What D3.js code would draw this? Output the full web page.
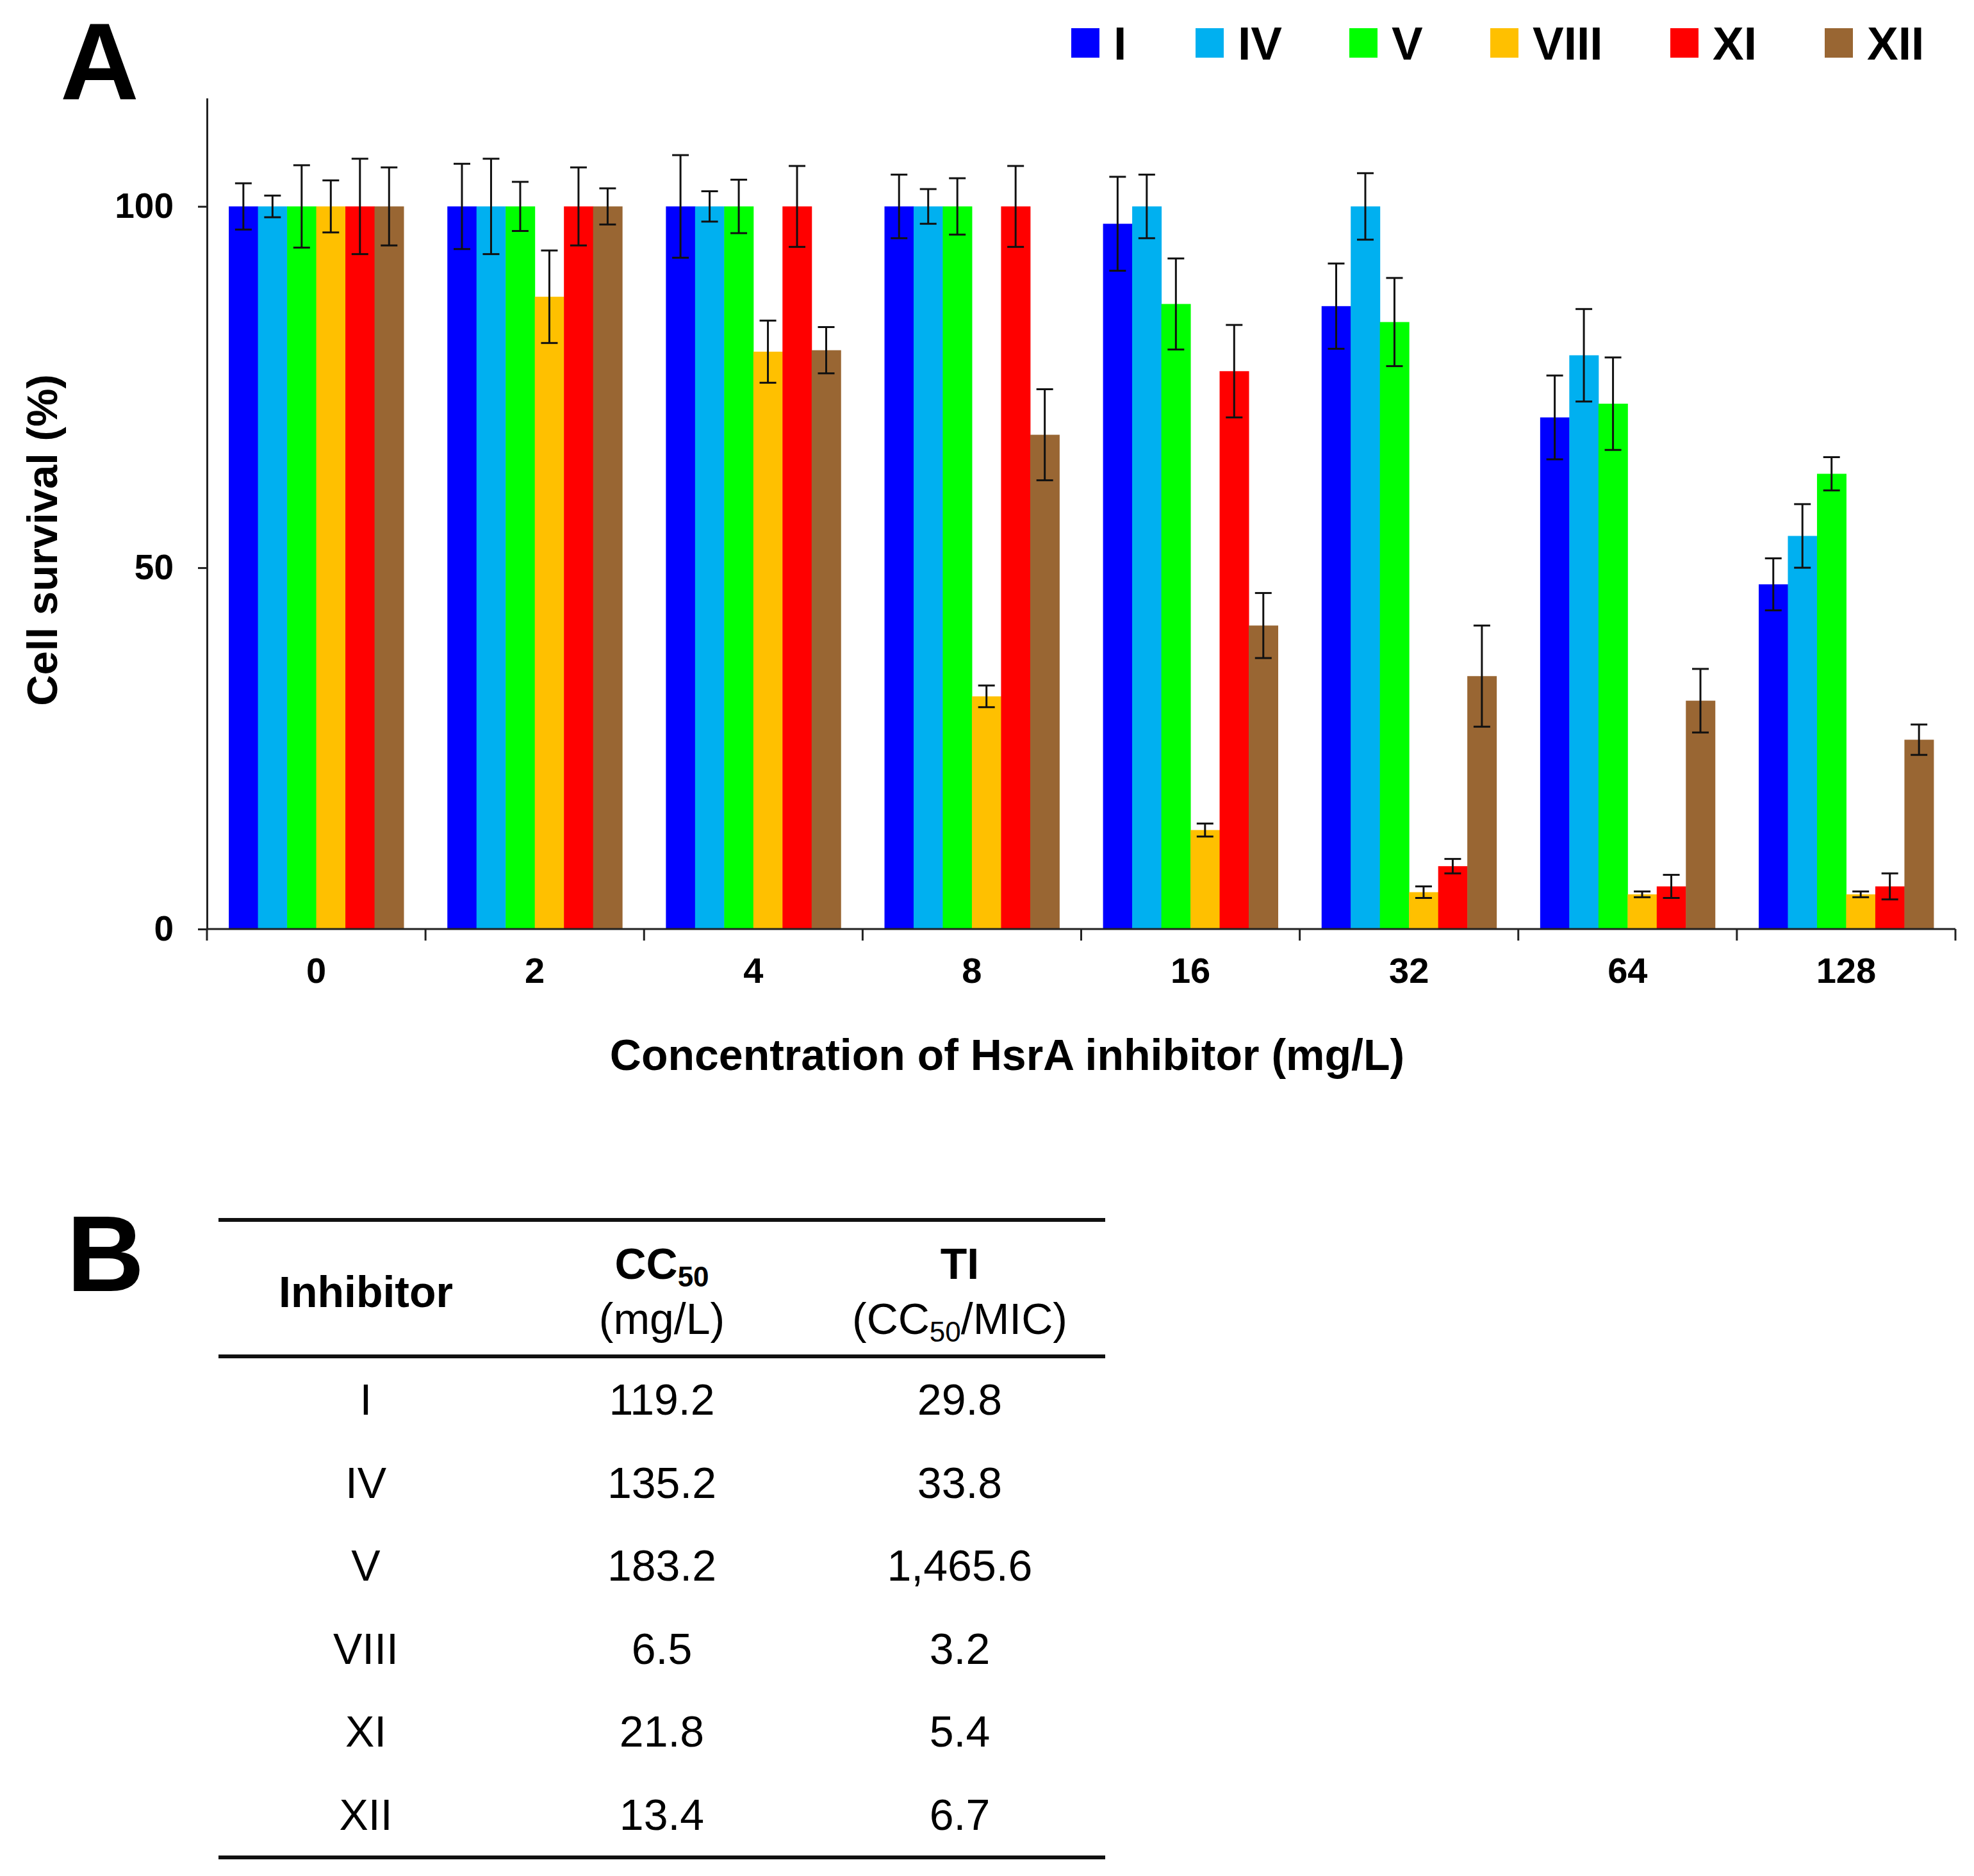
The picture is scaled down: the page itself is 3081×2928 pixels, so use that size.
<!DOCTYPE html>
<html lang="en">
  <head>
    <meta charset="UTF-8" />
    <title>Cell survival vs HsrA inhibitor concentration</title>
    <style>
      body {
        margin: 0;
        background: #fff;
      }
      svg {
        display: block;
        font-family: "Liberation Sans", Arial, sans-serif;
      }
      .bold {
        font-weight: bold;
      }
    </style>
  </head>
  <body>
    <svg id="chart"></svg>

    <script src="https://d3js.org/d3.v7.min.js"></script>
    <script>
      const width = 3081;
      const height = 2928;

      // data
      const concentrations = ["0", "2", "4", "8", "16", "32", "64", "128"];
      const inhibitors = ["I", "IV", "V", "VIII", "XI", "XII"];
      const colors = ["#0000ff", "#00b0f0", "#00ff00", "#ffc000", "#ff0000", "#996633"];

      // survival (%) per inhibitor, one value per concentration
      const survI = [100, 100, 100, 100, 97.6, 86.2, 70.8, 47.7];
      const survIV = [100, 100, 100, 100, 100, 100, 79.4, 54.4];
      const survV = [100, 100, 100, 100, 86.5, 84.0, 72.7, 63.0];
      const survVIII = [100, 87.5, 79.9, 32.2, 13.7, 5.1, 4.8, 4.8];
      const survXI = [100, 100, 100, 100, 77.2, 8.7, 5.9, 5.9];
      const survXII = [100, 100, 80.1, 68.4, 42.0, 35.0, 31.6, 26.2];

      // error bar half-lengths
      const errI = [3.2, 5.9, 7.1, 4.4, 6.5, 5.9, 5.8, 3.6];
      const errIV = [1.5, 6.6, 2.1, 2.4, 4.4, 4.6, 6.4, 4.4];
      const errV = [5.7, 3.4, 3.7, 3.9, 6.3, 6.1, 6.4, 2.3];
      const errVIII = [3.6, 6.4, 4.3, 1.5, 0.9, 0.8, 0.4, 0.4];
      const errXI = [6.6, 5.4, 5.6, 5.6, 6.4, 1.0, 1.6, 1.8];
      const errXII = [5.4, 2.5, 3.2, 6.3, 4.5, 7.0, 4.4, 2.1];

      const yTicks = [0, 50, 100];

      // table B
      const tableInhibitors = ["I", "IV", "V", "VIII", "XI", "XII"];
      const tableCC50 = ["119.2", "135.2", "183.2", "6.5", "21.8", "13.4"];
      const tableTI = ["29.8", "33.8", "1,465.6", "3.2", "5.4", "6.7"];

      const survival = [survI, survIV, survV, survVIII, survXI, survXII];
      const errors = [errI, errIV, errV, errVIII, errXI, errXII];

      const rows = [];
      concentrations.forEach((c, ci) => {
        inhibitors.forEach((inh, si) => {
          rows.push({
            conc: c,
            inhibitor: inh,
            value: survival[si][ci],
            err: errors[si][ci],
          });
        });
      });

      const svg = d3
        .select("#chart")
        .attr("width", width)
        .attr("height", height)
        .attr("viewBox", `0 0 ${width} ${height}`);

      const margin = { left: 323, right: 3052, top: 153, bottom: 1450 };

      const x0 = d3
        .scaleBand()
        .domain(concentrations)
        .range([margin.left, margin.right])
        .paddingInner(0.2)
        .paddingOuter(0.1);

      const x1 = d3
        .scaleBand()
        .domain(inhibitors)
        .range([0, x0.bandwidth()]);

      const y = d3
        .scaleLinear()
        .domain([0, 115])
        .range([margin.bottom, margin.top]);

      const color = d3.scaleOrdinal().domain(inhibitors).range(colors);

      // panel letters
      svg
        .append("text")
        .attr("class", "bold")
        .attr("x", 94)
        .attr("y", 155)
        .attr("font-size", 170)
        .text("A");

      // bars
      const plot = svg.append("g");

      plot
        .selectAll("rect")
        .data(rows)
        .join("rect")
        .attr("x", (d) => x0(d.conc) + x1(d.inhibitor))
        .attr("y", (d) => y(d.value))
        .attr("width", x1.bandwidth() + 0.5)
        .attr("height", (d) => y(0) - y(d.value))
        .attr("fill", (d) => color(d.inhibitor));

      // error bars
      const capW = 13;
      const cx = (d) => x0(d.conc) + x1(d.inhibitor) + x1.bandwidth() / 2;
      const eb = plot
        .selectAll("g.err")
        .data(rows)
        .join("g")
        .attr("class", "err")
        .attr("stroke", "#111")
        .attr("stroke-width", 3);

      eb.append("line")
        .attr("x1", cx)
        .attr("x2", cx)
        .attr("y1", (d) => y(d.value - d.err))
        .attr("y2", (d) => y(d.value + d.err));

      eb.append("line")
        .attr("x1", (d) => cx(d) - capW)
        .attr("x2", (d) => cx(d) + capW)
        .attr("y1", (d) => y(d.value + d.err))
        .attr("y2", (d) => y(d.value + d.err));

      eb.append("line")
        .attr("x1", (d) => cx(d) - capW)
        .attr("x2", (d) => cx(d) + capW)
        .attr("y1", (d) => y(d.value - d.err))
        .attr("y2", (d) => y(d.value - d.err));

      // y axis
      const yAxis = svg
        .append("g")
        .attr("transform", `translate(${margin.left},0)`)
        .call(d3.axisLeft(y).tickValues(yTicks).tickSize(14).tickSizeOuter(0).tickPadding(38));

      yAxis.selectAll("path, line").attr("stroke", "#222").attr("stroke-width", 3);
      yAxis
        .selectAll("text")
        .attr("class", "bold")
        .attr("font-size", 55)
        .attr("fill", "#000");

      // x axis: baseline, boundary ticks, centred labels
      const xAxis = svg
        .append("g")
        .attr("transform", `translate(0,${margin.bottom})`)
        .call(d3.axisBottom(x0).tickSize(0).tickPadding(84));

      xAxis.select("path").remove();
      xAxis
        .selectAll("text")
        .attr("class", "bold")
        .attr("font-size", 56)
        .attr("fill", "#000")
        .attr("dy", 0);

      xAxis
        .append("line")
        .attr("x1", margin.left)
        .attr("x2", margin.right)
        .attr("stroke", "#222")
        .attr("stroke-width", 3);

      const step = x0.step();
      const bounds = concentrations.map((c) => x0(c) - step * 0.1);
      bounds.push(margin.right);
      xAxis
        .selectAll("line.bound")
        .data(bounds)
        .join("line")
        .attr("class", "bound")
        .attr("x1", (d) => d)
        .attr("x2", (d) => d)
        .attr("y1", 0)
        .attr("y2", 18)
        .attr("stroke", "#222")
        .attr("stroke-width", 3);

      // axis titles
      svg
        .append("text")
        .attr("class", "bold")
        .attr("transform", `translate(89,843) rotate(-90)`)
        .attr("text-anchor", "middle")
        .attr("font-size", 67)
        .text("Cell survival (%)");

      svg
        .append("text")
        .attr("class", "bold")
        .attr("x", 1572)
        .attr("y", 1670)
        .attr("text-anchor", "middle")
        .attr("font-size", 68)
        .text("Concentration of HsrA inhibitor (mg/L)");

      // legend
      const legendX = [1672, 1866, 2106, 2326, 2607, 2848];
      const legend = svg
        .selectAll("g.legend")
        .data(inhibitors)
        .join("g")
        .attr("class", "legend")
        .attr("transform", (d, i) => `translate(${legendX[i]},44)`);

      legend
        .append("rect")
        .attr("width", 44)
        .attr("height", 46)
        .attr("fill", (d) => color(d));

      legend
        .append("text")
        .attr("class", "bold")
        .attr("x", 66)
        .attr("y", 49)
        .attr("font-size", 73)
        .text((d) => d);

      // ---- table B ----
      svg
        .append("text")
        .attr("class", "bold")
        .attr("x", 104)
        .attr("y", 2015)
        .attr("font-size", 168)
        .text("B");

      const tLeft = 341;
      const tRight = 1725;
      const colX = [571, 1033, 1498];
      const lineYs = [1904, 2117, 2899];

      svg
        .selectAll("line.rule")
        .data(lineYs)
        .join("line")
        .attr("class", "rule")
        .attr("x1", tLeft)
        .attr("x2", tRight)
        .attr("y1", (d) => d)
        .attr("y2", (d) => d)
        .attr("stroke", "#111")
        .attr("stroke-width", 6);

      const head = svg.append("g").attr("text-anchor", "middle").attr("fill", "#000");

      head
        .append("text")
        .attr("class", "bold")
        .attr("x", colX[0])
        .attr("y", 2040)
        .attr("font-size", 68)
        .text("Inhibitor");

      const cc = head
        .append("text")
        .attr("class", "bold")
        .attr("x", colX[1])
        .attr("y", 1996)
        .attr("font-size", 68);
      cc.append("tspan").text("CC");
      cc.append("tspan").attr("font-size", 44).attr("dy", 12).text("50");

      head
        .append("text")
        .attr("x", colX[1])
        .attr("y", 2082)
        .attr("font-size", 68)
        .text("(mg/L)");

      head
        .append("text")
        .attr("class", "bold")
        .attr("x", colX[2])
        .attr("y", 1996)
        .attr("font-size", 68)
        .text("TI");

      const tiSub = head
        .append("text")
        .attr("x", colX[2])
        .attr("y", 2082)
        .attr("font-size", 68);
      tiSub.append("tspan").text("(CC");
      tiSub.append("tspan").attr("font-size", 44).attr("dy", 12).text("50");
      tiSub.append("tspan").attr("dy", -12).text("/MIC)");

      const rowY = d3
        .scalePoint()
        .domain(tableInhibitors)
        .range([2208, 2856]);

      const body = svg
        .append("g")
        .attr("text-anchor", "middle")
        .attr("font-size", 68)
        .attr("fill", "#000");

      [tableInhibitors, tableCC50, tableTI].forEach((col, ci) => {
        body
          .selectAll(`text.c${ci}`)
          .data(col)
          .join("text")
          .attr("class", `c${ci}`)
          .attr("x", colX[ci])
          .attr("y", (d, i) => rowY(tableInhibitors[i]))
          .text((d) => d);
      });
    </script>
  </body>
</html>
